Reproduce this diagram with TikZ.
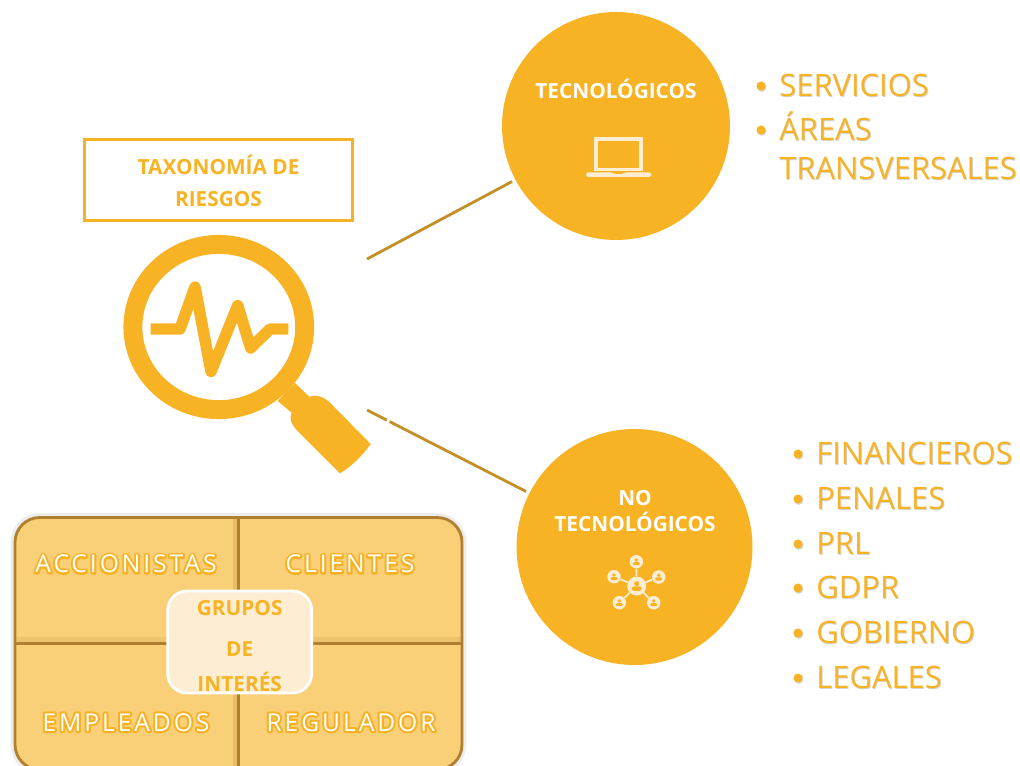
\documentclass[tikz,border=0pt]{standalone}
\usepackage{fontspec}
\setmainfont{Open Sans}
\definecolor{gold}{HTML}{F7B324}
\definecolor{pale}{HTML}{FDEDD2}
\definecolor{panelfill}{HTML}{F9CF78}
\definecolor{paneledge}{HTML}{B08030}
\definecolor{linkcol}{HTML}{C39028}
\newcommand{\halotext}[1]{\rlap{\special{pdf:code 1 Tr 2.3 w 1 J 1 j 0.97 0.70 0.14 RG}#1\special{pdf:code 0 Tr}}#1}
\newcommand{\shadetext}[1]{\rlap{\raisebox{-0.7pt}{\kern0.5pt\color{black!17}#1}}#1}
\tikzset{
  disc/.style={circle,fill=gold,minimum size=#1,inner sep=0pt},
  head/.style={anchor=base,inner sep=0pt,font=\fontsize{11.85}{14}\selectfont\bfseries},
  goldhead/.style={head,text=gold},
  whitehead/.style={head,text=white},
  item/.style={anchor=base west,inner sep=0pt,text=gold,font=\fontsize{17.6}{20}\selectfont},
  dot/.style={circle,fill=gold,minimum size=5.2pt,inner sep=0pt,
    preaction={fill=black!17,transform canvas={shift={(0.5pt,-0.7pt)}}}},
  stake/.style={anchor=base,inner sep=0pt,text=white,font=\fontsize{14}{15}\selectfont\addfontfeature{LetterSpace=12}},
  link/.style={draw=linkcol,line width=1.6pt},
  peer/.style={circle,fill=pale,inner sep=0pt}
}
\begin{document}
\begin{tikzpicture}[x=0.02cm,y=-0.02cm]
  \clip (0,0) rectangle (1020,765);
  \fill[white] (0,0) rectangle (1020,765);

  % connectors
  \node[disc=4.56cm] (tec) at (616,126) {};
  \node[disc=4.72cm] (notec) at (634.5,547) {};
  \coordinate (lensa) at (367,259);
  \coordinate (lensb) at (367,410);
  \draw[link,shorten >=2pt] (lensa) -- (tec);
  \draw[link,shorten >=2pt,dash pattern=on 12.7pt off 1.7pt on 300pt off 0pt] (lensb) -- (notec);

  % title
  \node[draw=gold,line width=1.3pt,minimum width=5.36cm,minimum height=1.62cm,inner sep=0pt] (title) at (218.5,180) {};
  \node[goldhead] (titlea) at (218.5,174) {TAXONOMÍA DE};
  \node[goldhead] (titleb) at (218.5,206) {RIESGOS};

  % magnifier
  \draw[gold,line width=19*0.5669pt] (218.8,327) ellipse (85.9 and 82.6);
  \fill[gold] (295,383) -- (309.3,396.7)
    .. controls (316,394) and (324,397) .. (330,402.7)
    -- (370.7,444)
    .. controls (362,456) and (352,466) .. (340,473.3)
    -- (296.7,430)
    .. controls (291,424) and (289,418) .. (291.7,412.7)
    -- (277.7,401) -- cycle;
  \draw[gold,line width=11.5*0.5669pt,line join=round]
    (150.7,329) -- (180,329) -- (195,287) -- (211,371.5) -- (237.7,305.5) -- (250.7,348) -- (270,329) -- (288.3,329);

  % circles
  \node[whitehead] (teclabel) at (616,98) {TECNOLÓGICOS};
  \draw[pale,line width=2.2pt] (596.3,139.3) rectangle (641,169.5);
  \fill[pale,rounded corners=1pt] (586,172.3) -- (612,172.3) -- (614,174) -- (623,174) -- (625,172.3) -- (651.3,172.3) -- (651.3,176.8) -- (586,176.8) -- cycle;

  \node[whitehead] (nolabel) at (635,505) {NO};
  \node[whitehead] (notecla) at (635,531.7) {TECNOLÓGICOS};
  \node[peer,minimum size=0.38cm] (hub) at (636.7,586) {};
  \foreach \name/\x/\y in {pa/636.3/561.7,pb/614/576.7,pc/658.7/577,pd/619.3/602.7,pe/653.7/602.7}{
    \node[peer,minimum size=0.27cm] (\name) at (\x,\y) {};
    \draw[pale,line width=1pt] (hub) -- (\name);
  }
  \foreach \name/\s in {hub/1.35,pa/1,pb/1,pc/1,pd/1,pe/1}{
    \fill[gold] ([yshift=1.0pt*\s]\name.center) circle[radius=1.05pt*\s];
    \fill[gold,rounded corners=0.9pt*\s] ([xshift=-2.1pt*\s,yshift=-2.0pt*\s]\name.center) rectangle ([xshift=2.1pt*\s,yshift=-0.2pt*\s]\name.center);
  }

  % lists
  \foreach \name/\y/\txt in {sa/96/SERVICIOS,sb/140/ÁREAS,sc/179/TRANSVERSALES}{
    \node[item] (\name) at (779,\y) {\shadetext{\txt}};
  }
  \node[dot] (dota) at (761,86) {};
  \node[dot] (dotb) at (761,130) {};
  \foreach \name/\y/\txt in {na/464/FINANCIEROS,nb/509/PENALES,nc/554/PRL,nd/598/GDPR,ne/643/GOBIERNO,nf/688/LEGALES}{
    \node[item] (\name) at (816,\y) {\shadetext{\txt}};
    \node[dot] (dot\name) at (798,\y-10) {};
  }

  % stakeholders
  \node[draw=gray,opacity=0.14,line width=5pt,rounded corners=14pt,minimum width=8.94cm,minimum height=5.04cm] (halo) at (238.5,643.5) {};
  \node[draw=paneledge,fill=panelfill,line width=1.6pt,rounded corners=14pt,minimum width=8.94cm,minimum height=5.04cm,inner sep=0pt] (panel) at (238.5,643.5) {};
  \draw[paneledge,opacity=0.22,line width=4pt] ([xshift=-1pt]panel.north) -- ([xshift=-1pt]panel.south);
  \draw[paneledge,opacity=0.15,line width=4pt] ([yshift=1.5pt]panel.west) -- ([yshift=1.5pt]panel.east);
  \draw[paneledge,line width=1.6pt] (panel.north) -- (panel.south);
  \draw[paneledge,line width=1.6pt] (panel.west) -- (panel.east);
  \node[stake] (acc) at (126,572.7) {\halotext{ACCIONISTAS}};
  \node[stake] (cli) at (350,572.7) {\halotext{CLIENTES}};
  \node[stake] (emp) at (126,731) {\halotext{EMPLEADOS}};
  \node[stake] (reg) at (351,731) {\halotext{REGULADOR}};
  \node[draw=white,fill=pale,line width=1.6pt,rounded corners=11pt,minimum width=2.88cm,minimum height=2.04cm,inner sep=0pt] (core) at (239.7,642) {};
  \node[goldhead] (corea) at (239.7,615) {GRUPOS};
  \node[goldhead] (coreb) at (239.7,656) {DE};
  \node[goldhead] (corec) at (239.7,691.7) {INTERÉS};
\end{tikzpicture}
\end{document}
